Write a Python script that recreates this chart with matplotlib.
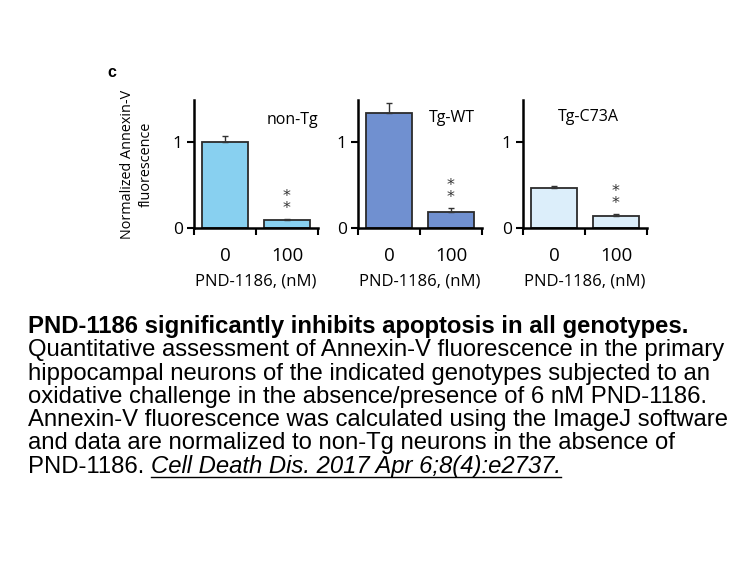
import matplotlib
matplotlib.use("Agg")
import matplotlib.pyplot as plt
from matplotlib.lines import Line2D

# ---- data ----
genotypes = ["non-Tg", "Tg-WT", "Tg-C73A"]
doses = ["0", "100"]
means = [[1.00, 0.09], [1.34, 0.19], [0.46, 0.14]]
errs = [[0.07, 0.01], [0.11, 0.04], [0.03, 0.02]]
colors = ["#88D0F0", "#7090D0", "#DCEEFA"]
xlabel = "PND-1186, (nM)"
ylabel = "Normalized Annexin-V\nfluorescence"
sig = ["**", "**", "**"]

caption_bold = "PND-1186 significantly inhibits apoptosis in all genotypes."
caption_lines = [
    "Quantitative assessment of Annexin-V fluorescence in the primary",
    "hippocampal neurons of the indicated genotypes subjected to an",
    "oxidative challenge in the absence/presence of 6 nM PND-1186.",
    "Annexin-V fluorescence was calculated using the ImageJ software",
    "and data are normalized to non-Tg neurons in the absence of",
]
caption_last = "PND-1186. "
citation = "Cell Death Dis. 2017 Apr 6;8(4):e2737."

W, H = 756, 567
fig = plt.figure(figsize=(W / 100, H / 100), dpi=100)

axfont = "Open Sans"
panel_left = [194, 358, 523]
ax_w, ax_top, ax_bot = 124, 100, 228
title_pos = [(1.08, 1.26), (1.02, 1.28), (0.55, 1.29)]

for i, g in enumerate(genotypes):
    ax = fig.add_axes([panel_left[i] / W, 1 - ax_bot / H, ax_w / W, (ax_bot - ax_top) / H])
    x = list(range(len(doses)))
    ax.bar(x, means[i], width=0.74, color=colors[i], edgecolor="#2b2b2b", linewidth=1.3,
           yerr=[[0, 0], errs[i]], error_kw=dict(ecolor="#333333", elinewidth=1.0, capsize=2, capthick=1.0),
           zorder=2)
    ax.set_xlim(-0.5, 1.5)
    ax.set_ylim(0, 1.49)
    for s in ["top", "right"]:
        ax.spines[s].set_visible(False)
    for s in ["left", "bottom"]:
        ax.spines[s].set_linewidth(1.8)
        ax.spines[s].set_color("black")
    ax.set_yticks([0, 1])
    ax.set_yticklabels(["0", "1"], fontsize=12.5, family=axfont)
    ax.tick_params(axis="y", length=5, width=1.5, pad=3)
    ax.set_xticks(x)
    ax.set_xticklabels(doses, fontsize=13.5, family=axfont)
    ax.tick_params(axis="x", which="major", length=0, pad=14)
    ax.set_xticks([-0.5, 0.5, 1.5], minor=True)
    ax.tick_params(axis="x", which="minor", length=5, width=1.5, direction="out")
    ax.set_xlabel(xlabel, fontsize=12, family=axfont, labelpad=6)
    ax.text(title_pos[i][0], title_pos[i][1], g, ha="center", va="center", fontsize=11.5, family=axfont)
    top = means[i][1] + errs[i][1]
    ax.text(1, top + 0.04, "*\n*", ha="center", va="bottom", fontsize=11.5, family="DejaVu Sans",
            linespacing=0.75, color="#333333")
    if i == 0:
        ax.set_ylabel(ylabel, fontsize=10.4, family=axfont, labelpad=14, linespacing=1.35)

fig.text(107 / W, 1 - 73 / H, "c", fontsize=11.5, fontweight="bold", family="Liberation Sans",
         ha="left", va="center")

# ---- caption ----
capfont = "Liberation Sans"
fs = 17.2
x0 = 28 / W
base0 = 333
step = 23.3
fig.text(x0, 1 - base0 / H, caption_bold, fontsize=fs, fontweight="bold", family=capfont, va="baseline")
for k, line in enumerate(caption_lines):
    fig.text(x0, 1 - (base0 + step * (k + 1)) / H, line, fontsize=fs, family=capfont, va="baseline")
ylast = 1 - (base0 + step * 6) / H
t1 = fig.text(x0, ylast, caption_last, fontsize=fs, family=capfont, va="baseline")
fig.canvas.draw()
r = fig.canvas.get_renderer()
bb = t1.get_window_extent(r)
x1 = bb.x1 / W
t2 = fig.text(x1, ylast, citation, fontsize=fs, family=capfont, style="italic", va="baseline")
bb2 = t2.get_window_extent(r)
uy = ylast - 4 / H
fig.add_artist(Line2D([x1, bb2.x1 / W], [uy, uy], color="black", linewidth=1.0, transform=fig.transFigure))

fig.savefig("out.png", dpi=100)
